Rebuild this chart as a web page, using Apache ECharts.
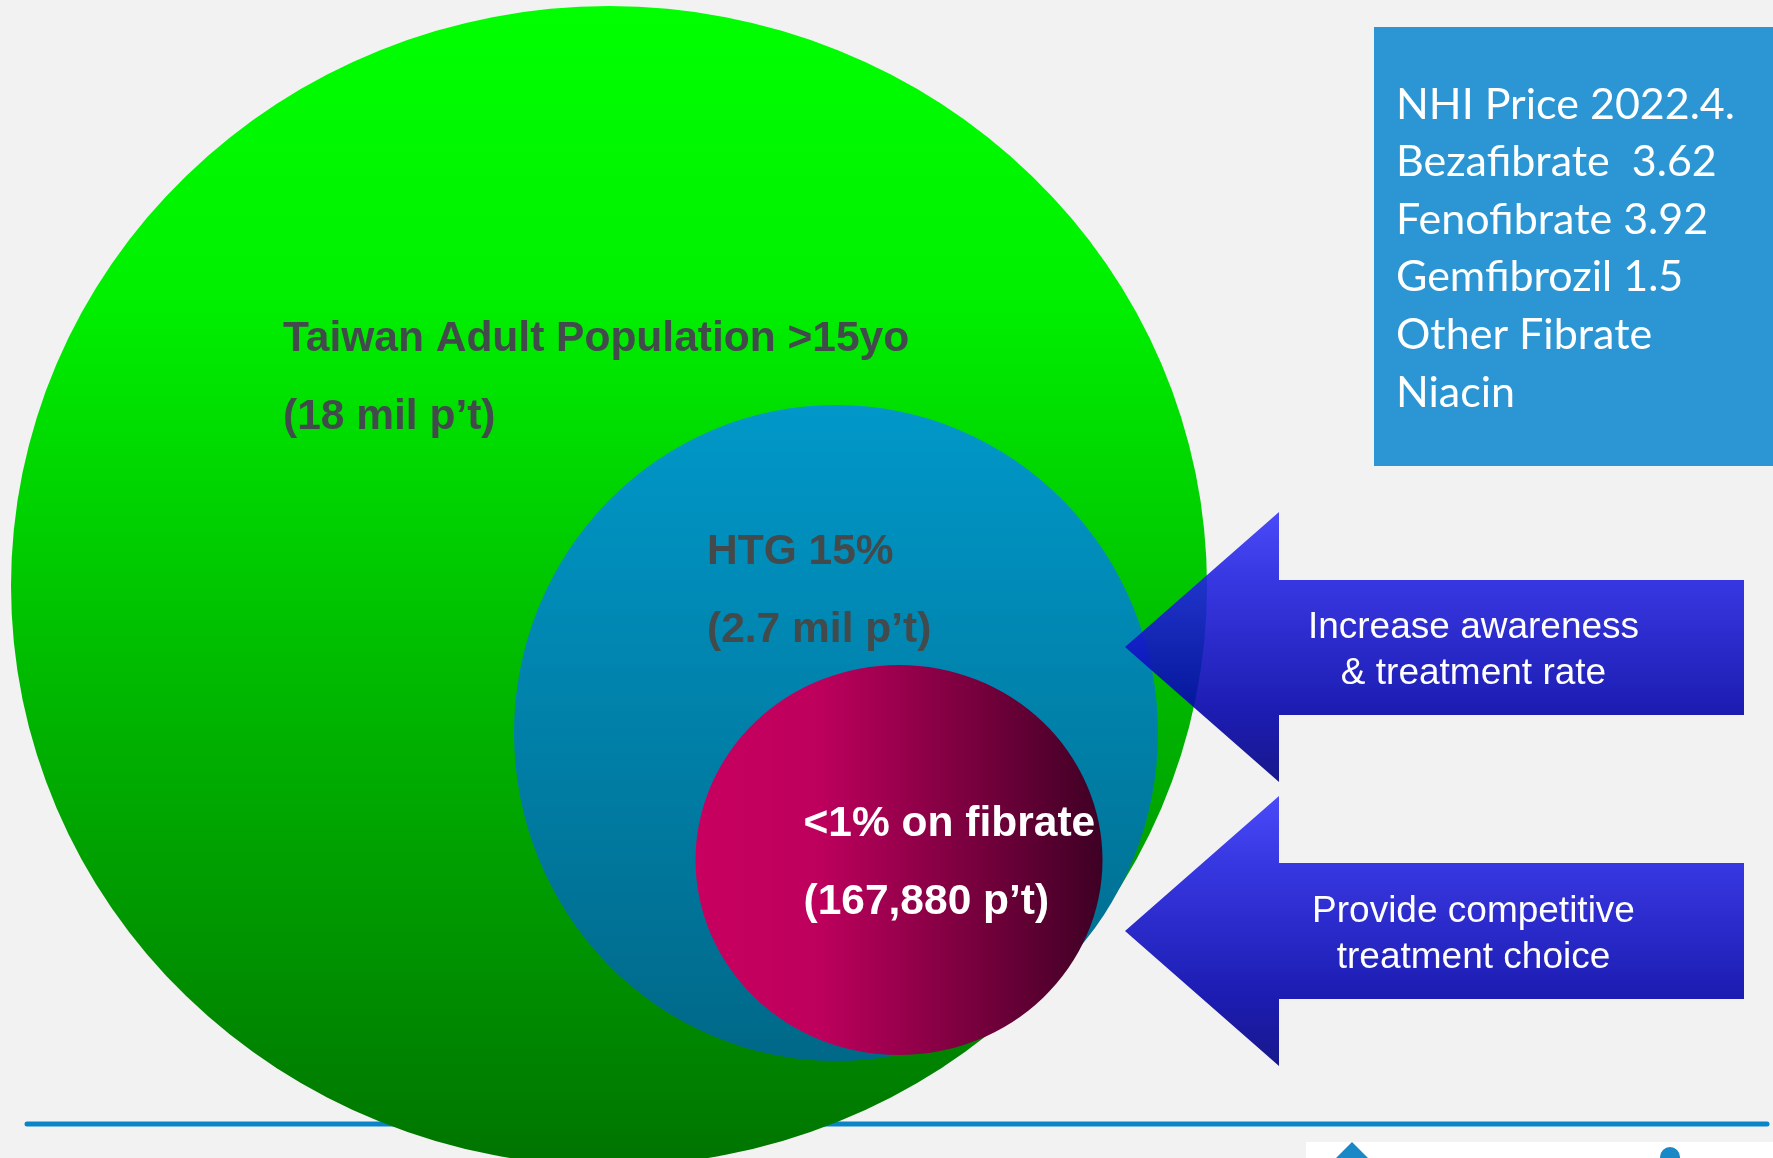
<!DOCTYPE html>
<html>
<head>
<meta charset="utf-8">
<script src="https://cdn.jsdelivr.net/npm/echarts@6/dist/echarts.min.js"></script>
<style>
html, body { margin: 0; padding: 0; background: #f2f2f2; }
#chart { width: 1773px; height: 1158px; }
</style>
</head>
<body>
<div id="chart"></div>
<script>
// groups (outer to inner)
const groups = ['Taiwan Adult Population >15yo', 'HTG 15%', '<1% on fibrate'];
const patients = ['(18 mil p’t)', '(2.7 mil p’t)', '(167,880 p’t)'];
// price box
const priceTitle = 'NHI Price 2022.4.';
const drugs = ['Bezafibrate ', 'Fenofibrate', 'Gemfibrozil', 'Other Fibrate', 'Niacin'];
const prices = ['3.62', '3.92', '1.5', '', ''];
// arrows
const actions = ['Increase awareness\n& treatment rate', 'Provide competitive\ntreatment choice'];

// layout of the diagram (pixels)
const circleLayout = [
    {cx: 609, cy: 586, w: 1196, h: 1160, tx: 272, ty: 294, color: '#424a4b',
        stops: [[0, '#00ff00'], [0.25, '#00f000'], [1, '#007400']], dir: [0, 0, 0, 1]},
    {cx: 836, cy: 733, w: 644, h: 656, tx: 193, ty: 108, color: '#424a4b',
        stops: [[0, '#0098c9'], [1, '#006888']], dir: [0, 0, 0, 1]},
    {cx: 899, cy: 860, w: 407, h: 390, tx: 108, ty: 120, color: '#ffffff',
        stops: [[0, '#c80060'], [0.3, '#be005d'], [1, '#3e0024']], dir: [0, 0, 1, 0]}
];
const arrowLayout = [
    {tip: [1125, 647], headX: 1279, headTop: 512, headBottom: 782, bodyTop: 580, bodyBottom: 715, right: 1744},
    {tip: [1125, 931], headX: 1279, headTop: 796, headBottom: 1066, bodyTop: 863, bodyBottom: 999, right: 1744}
];

let circleData = groups.map(function (name, i) {
    let c = circleLayout[i];
    return {
        name: name,
        value: [c.cx, c.cy],
        symbolSize: [c.w, c.h],
        itemStyle: {
            opacity: 1,
            color: new echarts.graphic.LinearGradient(c.dir[0], c.dir[1], c.dir[2], c.dir[3],
                c.stops.map(function (s) { return {offset: s[0], color: s[1]}; }))
        },
        label: {
            show: true,
            position: [c.tx, c.ty],
            align: 'left',
            verticalAlign: 'top',
            formatter: '{t|' + name + '}\n{t|' + patients[i] + '}',
            rich: {
                t: {
                    fontFamily: '"Liberation Sans", Arial, sans-serif',
                    fontWeight: 'bold',
                    fontSize: 42.5,
                    lineHeight: 78,
                    color: c.color
                }
            }
        }
    };
});

let graphics = [];
// bottom rule (behind the circles)
graphics.push({
    type: 'line', z: 0,
    shape: {x1: 27, y1: 1124, x2: 1767, y2: 1124},
    style: {stroke: '#0a84c8', lineWidth: 5, lineCap: 'round'}
});
// arrows
arrowLayout.forEach(function (a, i) {
    graphics.push({
        type: 'polygon', z: 10,
        shape: {points: [a.tip, [a.headX, a.headTop], [a.headX, a.bodyTop], [a.right, a.bodyTop],
            [a.right, a.bodyBottom], [a.headX, a.bodyBottom], [a.headX, a.headBottom]]},
        style: {
            fill: new echarts.graphic.LinearGradient(0, 0, 0, 1, [
                {offset: 0, color: 'rgb(55,55,250)'},
                {offset: 0.25, color: 'rgb(35,35,224)'},
                {offset: 0.75, color: 'rgb(4,4,170)'},
                {offset: 1, color: 'rgb(0,0,128)'}
            ]),
            opacity: 0.9
        }
    });
    graphics.push({
        type: 'text', z: 11,
        style: {
            text: actions[i],
            x: (a.headX + a.right) / 2 - 38,
            y: a.tip[1] + 4,
            font: '37px "Liberation Sans", Arial, sans-serif',
            fill: '#ffffff',
            lineHeight: 46,
            textAlign: 'center', align: 'center',
            textVerticalAlign: 'middle', verticalAlign: 'middle'
        }
    });
});
// price box
let priceLines = [priceTitle].concat(drugs.map(function (d, i) {
    return prices[i] ? d + ' ' + prices[i] : d;
}));
graphics.push({
    type: 'rect', z: 10,
    shape: {x: 1374, y: 27, width: 399, height: 439},
    style: {fill: '#2b96d3'}
});
graphics.push({
    type: 'text', z: 11,
    style: {
        text: priceLines.join('\n'),
        x: 1396, y: 76,
        font: '43px Lato, "Open Sans", sans-serif',
        fill: '#ffffff',
        lineHeight: 57.6,
        textAlign: 'left', align: 'left',
        textVerticalAlign: 'top', verticalAlign: 'top'
    }
});
// logo strip at the bottom right
graphics.push({
    type: 'rect', z: 10,
    shape: {x: 1306, y: 1142, width: 467, height: 16},
    style: {fill: '#ffffff'}
});
graphics.push({
    type: 'polygon', z: 11,
    shape: {points: [[1336, 1158], [1346, 1148], [1352, 1142], [1358, 1148], [1368, 1158]]},
    style: {fill: '#1a88c6'}
});
graphics.push({
    type: 'circle', z: 11,
    shape: {cx: 1670, cy: 1157, r: 10},
    style: {fill: '#1a88c6'}
});

let option = {
    backgroundColor: '#f2f2f2',
    animation: false,
    grid: {left: 0, right: 0, top: 0, bottom: 0},
    xAxis: {type: 'value', min: 0, max: 1773, show: false},
    yAxis: {type: 'value', min: 0, max: 1158, inverse: true, show: false},
    series: [{
        type: 'scatter',
        symbol: 'circle',
        silent: true,
        z: 2,
        data: circleData
    }],
    graphic: graphics
};

let myChart = echarts.init(document.getElementById('chart'));
myChart.setOption(option);
</script>
</body>
</html>
